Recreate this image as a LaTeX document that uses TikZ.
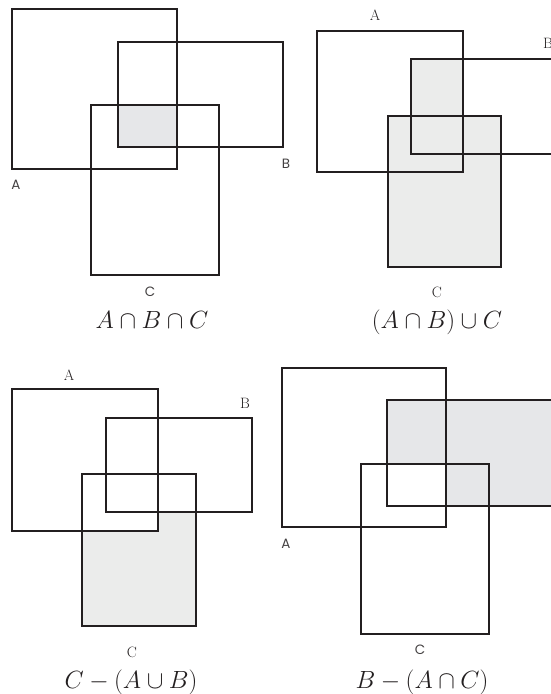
\documentclass[tikz,border=0pt]{standalone}
\usepackage{fontspec}
\newfontfamily\labsans{Poppins}
\definecolor{ink}{HTML}{231F20}
\definecolor{shadeA}{HTML}{E6E7E9}
\definecolor{shadeB}{HTML}{EBECEB}
\begin{document}
\begin{tikzpicture}[x=1pt,y=-1pt,
  box/.style={draw=ink,line width=1.7pt},
  sanslab/.style={font=\labsans\fontsize{13.5}{16}\selectfont,text=ink!85,inner sep=0pt},
  seriflab/.style={font=\fontsize{15}{18}\selectfont,text=ink,inner sep=0pt},
  formula/.style={font=\fontsize{25.5}{30}\selectfont,text=ink,inner sep=0pt,anchor=base}]
\useasboundingbox (0,0) rectangle (551,694);
\clip (0,0) rectangle (551,694);

% ---------- Panel 1: A cap B cap C ----------
\fill[shadeA] (118,105) rectangle (177,147);
\draw[box] (12,9) rectangle (177,169);
\draw[box] (118,42) rectangle (283,147);
\draw[box] (91,105) rectangle (219,275);
\draw[draw=ink,line width=2.6pt] (118,105) rectangle (177,147);
\node[sanslab] (a1) at (16,185) {A};
\node[sanslab] (b1) at (286,164) {B};
\node[sanslab] (c1) at (150,292) {C};
\node[formula] (f1) at (152,328) {$A\cap B\cap C$};

% ---------- Panel 2: (A cap B) cup C ----------
\fill[shadeB] (411,59) rectangle (463,154);
\fill[shadeB] (388,116) rectangle (501,267);
\draw[box] (317,31) rectangle (463,172);
\draw[box] (411,59) rectangle (570,154);
\draw[box] (388,116) rectangle (501,267);
\node[seriflab] (a2) at (375,15) {A};
\node[seriflab] (b2) at (548,43) {B};
\node[seriflab] (c2) at (437,292) {C};
\node[formula] (f2) at (437,328) {$(A\cap B)\cup C$};

% ---------- Panel 3: C - (A cup B) ----------
\fill[shadeB] (82,531) -- (158,531) -- (158,512) -- (196,512) -- (196,626) -- (82,626) -- cycle;
\draw[box] (12,389) rectangle (158,531);
\draw[box] (106,418) rectangle (252,512);
\draw[box] (82,474) rectangle (196,626);
\node[seriflab] (a3) at (69,375) {A};
\node[seriflab] (b3) at (245,403) {B};
\node[seriflab] (c3) at (132,652) {C};
\node[formula] (f3) at (131,688) {$C-(A\cup B)$};

% ---------- Panel 4: B - (A cap C) ----------
\fill[shadeA] (387,400) -- (570,400) -- (570,506) -- (446,506) -- (446,464) -- (387,464) -- cycle;
\draw[box] (282,368) rectangle (446,527);
\draw[box] (387,400) rectangle (570,506);
\draw[box] (361,464) rectangle (489,634);
\node[sanslab] (a4) at (286,544) {A};
\node[sanslab] (c4) at (420,650) {C};
\node[formula] (f4) at (422,688) {$B-(A\cap C)$};
\end{tikzpicture}
\end{document}
